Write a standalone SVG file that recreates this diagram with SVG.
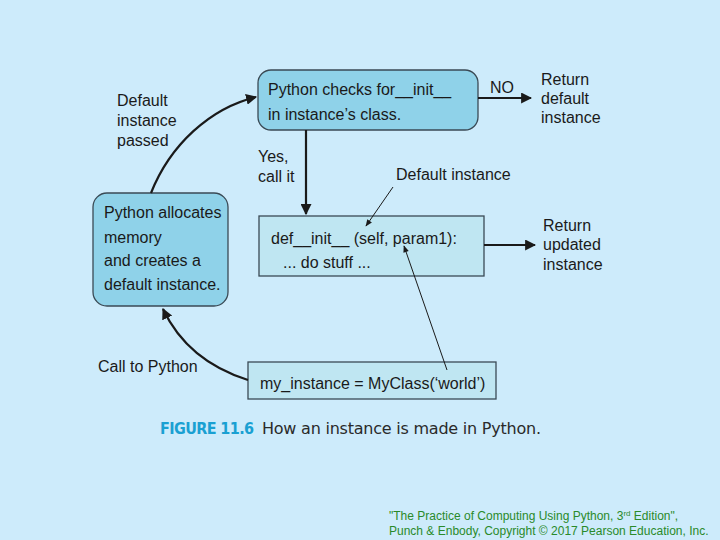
<svg xmlns="http://www.w3.org/2000/svg" width="720" height="540" viewBox="0 0 720 540">
<defs>
<style>
.t{font-family:"Liberation Sans",Arial,Helvetica,sans-serif;font-size:16px;fill:#1a1a1a}
.box{stroke:#3a4a55;stroke-width:1.3}
.dk{fill:#8fd2e9}
.lt{fill:#bfe6f2}
.c{fill:none;stroke:#1a1a1a;stroke-width:2.2}
.thin{fill:none;stroke:#1a1a1a;stroke-width:1}
</style>
<marker id="ah" viewBox="0 0 10 10" refX="9" refY="5" markerWidth="5" markerHeight="5" orient="auto" markerUnits="strokeWidth"><path d="M0,0 L10,5 L0,10 z" fill="#1a1a1a"/></marker>
<marker id="ahs" viewBox="0 0 10 10" refX="9" refY="5" markerWidth="8" markerHeight="7" orient="auto" markerUnits="strokeWidth"><path d="M0,1 L10,5 L0,9 z" fill="#1a1a1a"/></marker>
</defs>
<rect width="720" height="540" fill="#cdebfb"/>
<g id="labels">
<text class="t" x="117" y="106">Default</text>
<text class="t" x="117" y="126">instance</text>
<text class="t" x="117" y="146">passed</text>
<text class="t" x="490" y="93">NO</text>
<text class="t" x="541" y="85">Return</text>
<text class="t" x="541" y="104">default</text>
<text class="t" x="541" y="123">instance</text>
<text class="t" x="258" y="162">Yes,</text>
<text class="t" x="258" y="182">call it</text>
<text class="t" x="396" y="180">Default instance</text>
<text class="t" x="543" y="231">Return</text>
<text class="t" x="543" y="250">updated</text>
<text class="t" x="543" y="270">instance</text>
<text class="t" x="98" y="372">Call to Python</text>
</g>
<g id="checks">
<rect class="box dk" x="258" y="70" width="220" height="60" rx="13"/>
<text class="t" x="268" y="95">Python checks for__init__</text>
<text class="t" x="268" y="120">in instance’s class.</text>
</g>
<g id="init">
<rect class="box lt" x="259" y="216" width="225" height="60"/>
<text class="t" x="271" y="244">def__init__ (self, param1):</text>
<text class="t" x="283" y="268">... do stuff ...</text>
</g>
<g id="allocate">
<rect class="box dk" x="93" y="193" width="135" height="113" rx="14"/>
<text class="t" x="104" y="218">Python allocates</text>
<text class="t" x="104" y="243">memory</text>
<text class="t" x="104" y="266">and creates a</text>
<text class="t" x="104" y="290">default instance.</text>
</g>
<g id="call">
<rect class="box lt" x="248" y="362" width="248" height="37"/>
<text class="t" x="260" y="389">my_instance = MyClass(‘world’)</text>
</g>
<g id="connectors">
<path class="c" d="M151,193 C170,145 210,108 256,97" marker-end="url(#ah)"/>
<line class="c" x1="478" y1="98" x2="531" y2="98" marker-end="url(#ah)"/>
<line class="c" x1="306" y1="130" x2="306" y2="214" marker-end="url(#ah)"/>
<line class="c" x1="484" y1="245" x2="535" y2="245" marker-end="url(#ah)"/>
<path class="c" d="M248,380 C210,368 180,345 163,309" marker-end="url(#ah)"/>
<line class="thin" x1="393" y1="187" x2="366" y2="226" marker-end="url(#ahs)"/>
<line class="thin" x1="447" y1="370" x2="404" y2="246" marker-end="url(#ahs)"/>
</g>
<g id="caption">
<text x="160" y="434" style="font-family:'DejaVu Sans',sans-serif;font-stretch:condensed;font-weight:bold;font-size:16px;fill:#1aa0d2" textLength="94">FIGURE 11.6</text>
<text x="262" y="434" style="font-family:'DejaVu Sans',sans-serif;font-size:16px;fill:#2a2a2a" textLength="279">How an instance is made in Python.</text>
</g>
<g id="footer" style="font-family:'Liberation Sans',Arial,sans-serif;font-size:12px;fill:#2a8a2a">
<text x="389" y="520">"The Practice of Computing Using Python, 3<tspan font-size="8" dy="-4">rd</tspan><tspan dy="4"> Edition",</tspan></text>
<text x="389" y="535">Punch &amp; Enbody, Copyright © 2017 Pearson Education, Inc.</text>
</g>
</svg>
